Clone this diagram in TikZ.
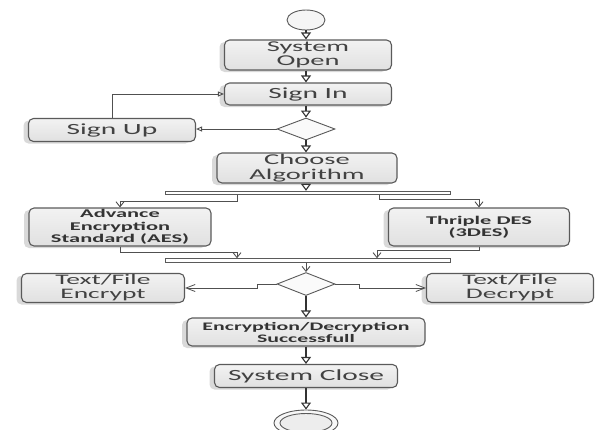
\documentclass[tikz,border=0pt]{standalone}
\usepackage{fontspec}
\setmainfont{Carlito}[FakeStretch=1.9]
\usetikzlibrary{shapes.geometric,arrows.meta,shadows}
\definecolor{boxline}{HTML}{5A5A5A}
\definecolor{txt}{HTML}{424242}
\definecolor{btxt}{HTML}{333333}
\definecolor{wire}{HTML}{505050}
\begin{document}
\begin{tikzpicture}[x=1pt,y=-1pt,
  act/.style={draw=boxline, line width=1.1pt, rounded corners=5pt, inner sep=0pt,
    top color=gray!10, bottom color=gray!24, align=center, text=txt,
    drop shadow={shadow xshift=-5pt, shadow yshift=-2pt, opacity=0.15, fill=black}},
  big/.style={font=\fontsize{15}{14.5}\selectfont},
  small/.style={font=\bfseries\fontsize{11.8}{12.3}\selectfont, text=btxt},
  dec/.style={diamond, draw=boxline, line width=0.9pt, fill=gray!4, inner sep=0pt, aspect=2.5},
  barnode/.style={draw=boxline, line width=0.9pt, fill=white, inner sep=0pt, minimum width=285pt, minimum height=3.5pt},
  flow/.style={draw=black!80, line width=1.1pt, -{Triangle[open, length=7pt, width=10pt]}},
  back/.style={draw=wire, line width=0.9pt, -{Triangle[open, length=6pt, width=5pt]}},
  fork/.style={draw=wire, line width=0.9pt, -{Straight Barb[length=5pt, width=8pt]}},
  side/.style={draw=wire, line width=0.8pt, -{Straight Barb[length=9pt, width=7pt]}}
]
\useasboundingbox (0,0) rectangle (597,429);

% nodes
\node[ellipse, draw=boxline, line width=0.9pt, fill=gray!8, minimum width=38pt, minimum height=20pt, inner sep=0pt] (start) at (306,20) {};
\node[act, big, minimum width=167pt, minimum height=30pt] (so) at (308,55) {System\\Open};
\node[act, big, font=\fontsize{15.5}{14.5}\selectfont, minimum width=167pt, minimum height=22pt] (si) at (308,94) {Sign In};
\node[dec, minimum width=58pt, minimum height=22pt] (d1) at (306,129) {};
\node[act, big, font=\fontsize{15.5}{14.5}\selectfont, minimum width=167pt, minimum height=23pt] (su) at (112,130) {Sign Up};
\node[act, big, minimum width=180pt, minimum height=30pt] (ca) at (307,168) {Choose\\Algorithm};
\node[barnode] (bar1) at (307.5,193) {};
\node[act, small, minimum width=182pt, minimum height=38pt] (aes) at (120,227) {Advance\\Encryption\\Standard (AES)};
\node[act, small, minimum width=181pt, minimum height=38pt] (des) at (479,227) {Thriple DES\\(3DES)};
\node[barnode] (bar2) at (307.5,260.5) {};
\node[dec, minimum width=58pt, minimum height=23pt] (d2) at (306,284) {};
\node[act, font=\fontsize{14.5}{14}\selectfont, minimum width=163pt, minimum height=29pt] (enc) at (103,288) {Text/File\\Encrypt};
\node[act, font=\fontsize{14.5}{14}\selectfont, minimum width=167pt, minimum height=29pt] (decr) at (510,288) {Text/File\\Decrypt};
\node[act, font=\bfseries\fontsize{11.5}{12}\selectfont, text=btxt, minimum width=238pt, minimum height=28pt] (ed) at (306,332) {Encryption/Decryption\\Successfull};
\node[act, big, font=\fontsize{15.5}{14.5}\selectfont, minimum width=183pt, minimum height=23pt] (sc) at (306,376) {System Close};
\node[ellipse, draw=boxline, line width=0.9pt, fill=gray!6, minimum width=64pt, minimum height=26pt, inner sep=0pt] (endo) at (306,423) {};
\node[ellipse, draw=boxline, line width=0.9pt, fill=gray!14, minimum width=52pt, minimum height=19pt, inner sep=0pt] (endi) at (306,423) {};

\coordinate (f1) at (237,0);
\coordinate (f2) at (379,0);
\coordinate (j2) at (377,0);

% connectors
\draw[flow] (start) -- (start |- so.north);
\draw[flow] (so.south -| start) -- (si.north -| start);
\draw[flow] (si.south -| d1) -- (d1.north);
\draw[flow] (d1.south) -- (d1.south |- ca.north);
\draw[flow] (ca.south -| d1) -- (bar1.north -| d1);
\draw[back] (su.north) |- (si.west);
\draw[back] (d1.west) -- (su.east |- d1.west);
\draw[fork] (bar1.south -| f1) -- ++(0,6) -| (aes.north);
\draw[fork] (bar1.south -| f2) -- ++(0,4) -| (des.north);
\draw[fork] (aes.south) -- ++(0,6) -| (bar2.north -| f1);
\draw[fork] (des.south) -- ++(0,4) -| (bar2.north -| j2);
\draw[fork] (bar2.south -| d2) -- (d2.north);
\draw[side] (d2.west) -- ++(-19,0) |- (enc.east);
\draw[side] (d2.east) -- ++(24,0) |- (decr.west);
\draw[flow] (d2.south) -- (ed.north);
\draw[flow] (ed.south) -- (sc.north);
\draw[flow] (sc.south) -- (endo.north);
\end{tikzpicture}
\end{document}
